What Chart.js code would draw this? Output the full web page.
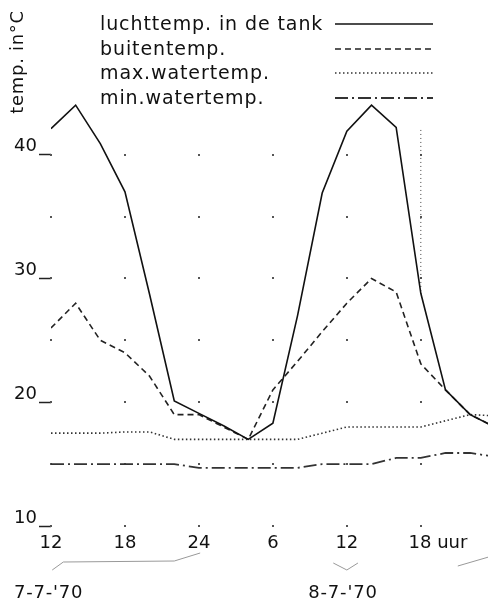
<!DOCTYPE html>
<html>
<head>
<meta charset="utf-8">
<script src="https://cdn.jsdelivr.net/npm/chart.js@4.4.0/dist/chart.umd.min.js"></script>
<style>
  html, body { margin: 0; padding: 0; background: #fff; }
  #wrap { position: relative; width: 488px; height: 607px; font-family: "DejaVu Sans", sans-serif; color: #111; }
  #wrap canvas { position: absolute; left: 0; top: 0; }
  #legend { position: absolute; left: 100px; top: 12px; }
  .row { position: relative; height: 24.5px; line-height: 22px; font-size: 19px; letter-spacing: 0.9px; white-space: nowrap; }
  .row svg { position: absolute; left: 235px; top: 10px; }
  #ytitle { position: absolute; left: 16px; top: 62px; transform: translate(-50%, -50%) rotate(-90deg);
            font-size: 18px; letter-spacing: 0.7px; white-space: nowrap; }
  .date { position: absolute; top: 581px; font-size: 18px; letter-spacing: 0.8px; white-space: nowrap; }
</style>
</head>
<body>
<div id="wrap">
  <canvas id="tempChart" width="488" height="607"></canvas>
  <div id="ytitle">temp. in°C</div>
  <div id="legend"></div>
  <div class="date" style="left:14px">7-7-'70</div>
  <div class="date" style="left:343px; transform: translateX(-50%)">8-7-'70</div>
</div>
<script>
// hours since midnight of 7-7-70, one reading every 2 hours
const hours = [12, 14, 16, 18, 20, 22, 24, 26, 28, 30, 32, 34, 36, 38, 40, 42, 44, 46, 48];

// temperatures in °C
const luchtTank = [42.1, 44.0, 40.9, 37.0, 28.7, 20.1, 19.1, 18.1, 17.0, 18.3, 27.0, 36.9, 41.9, 44.0, 42.2, 28.8, 21.0, 19.0, 18.0];
const buitenTemp = [26.0, 28.0, 25.0, 24.0, 22.1, 19.0, 19.0, 18.0, 17.0, 21.0, 23.3, 25.7, 28.0, 30.0, 28.9, 23.1, 21.0, 19.0, 18.0];
const maxWater = [17.5, 17.5, 17.5, 17.6, 17.6, 17.0, 17.0, 17.0, 17.0, 17.0, 17.0, 17.5, 18.0, 18.0, 18.0, 18.0, 18.5, 19.0, 18.9];
const minWater = [15.0, 15.0, 15.0, 15.0, 15.0, 15.0, 14.7, 14.7, 14.7, 14.7, 14.7, 15.0, 15.0, 15.0, 15.5, 15.5, 15.9, 15.9, 15.6];

// dotted drop line at 18 uur on the second day
const markerHour = 42;
const markerTemps = [42.0, 29.0];

// axis ticks
const tickHours = [12, 18, 24, 30, 36, 42];
const tickLabels = ['12', '18', '24', '6', '12', '      18 uur'];
const yLabels = [10, 20, 30, 40];

const seriesNames = ['luchttemp. in de tank', 'buitentemp.', 'max.watertemp.', 'min.watertemp.'];
const seriesValues = [luchtTank, buitenTemp, maxWater, minWater];
const seriesStyle = [
  { color: '#111', dash: [], width: 1.6 },
  { color: '#222', dash: [6, 4], width: 1.6 },
  { color: '#333', dash: [1.5, 2.5], width: 1.6 },
  { color: '#333', dash: [13, 4, 2, 4], width: 1.8 }
];

// Build the legend (text left, line sample right)
const legendBox = document.getElementById('legend');
seriesNames.forEach((name, i) => {
  const s = seriesStyle[i];
  const row = document.createElement('div');
  row.className = 'row';
  row.textContent = name;
  row.insertAdjacentHTML('beforeend',
    '<svg width="98" height="4"><line x1="0" y1="2" x2="98" y2="2" stroke="' + s.color +
    '" stroke-width="' + s.width + '" stroke-dasharray="' + s.dash.join(' ') + '"/></svg>');
  legendBox.appendChild(row);
});

// Small dots at the grid crossings, like the original drawing
const gridDots = {
  id: 'gridDots',
  beforeDatasetsDraw(chart) {
    const { ctx, scales: { x, y } } = chart;
    ctx.save();
    ctx.fillStyle = '#555';
    tickHours.forEach(h => {
      for (let t = 10; t <= 40; t += 5) {
        ctx.fillRect(Math.round(x.getPixelForValue(h)) - 1, Math.round(y.getPixelForValue(t)) - 1, 2, 2);
      }
    });
    ctx.restore();
  }
};

// Hand drawn brackets under the hour labels
const brackets = {
  id: 'brackets',
  afterDraw(chart) {
    const { ctx, scales: { x }, chartArea } = chart;
    const b = chartArea.bottom;
    const paths = [
      [[12.1, 44], [13.0, 36], [22.0, 35], [24.1, 27]],
      [[34.9, 37], [36.0, 44], [36.9, 37]],
      [[45.0, 40], [47.5, 31]]
    ];
    ctx.save();
    ctx.strokeStyle = '#999';
    ctx.lineWidth = 1;
    paths.forEach(p => {
      ctx.beginPath();
      p.forEach(([h, dy], k) => {
        const px = x.getPixelForValue(h);
        if (k === 0) ctx.moveTo(px, b + dy); else ctx.lineTo(px, b + dy);
      });
      ctx.stroke();
    });
    ctx.restore();
  }
};

const datasets = seriesValues.map((vals, i) => ({
  label: seriesNames[i],
  data: hours.map((h, k) => ({ x: h, y: vals[k] })),
  borderColor: seriesStyle[i].color,
  borderDash: seriesStyle[i].dash,
  borderWidth: seriesStyle[i].width,
  pointRadius: 0,
  tension: 0,
  fill: false
}));
datasets.push({
  label: 'marker',
  data: markerTemps.map(t => ({ x: markerHour, y: t })),
  borderColor: '#444',
  borderDash: [1, 3],
  borderWidth: 1,
  pointRadius: 0
});

Chart.defaults.font.family = '"DejaVu Sans", sans-serif';
Chart.defaults.font.size = 18;
Chart.defaults.color = '#111';

new Chart(document.getElementById('tempChart'), {
  type: 'line',
  data: { datasets },
  plugins: [gridDots, brackets],
  options: {
    responsive: false,
    animation: false,
    devicePixelRatio: 1,
    layout: { padding: { top: 99, right: 0, left: 0, bottom: 0 } },
    plugins: { legend: { display: false }, tooltip: { enabled: false } },
    scales: {
      x: {
        type: 'linear',
        min: 12,
        max: 47.45,
        afterFit: s => { s.height = 81; },
        border: { display: false },
        grid: { drawOnChartArea: false, drawTicks: false },
        ticks: {
          stepSize: 6,
          includeBounds: false,
          autoSkip: false,
          maxRotation: 0,
          padding: 7,
          callback: v => {
            const i = tickHours.indexOf(v);
            return i >= 0 ? tickLabels[i] : '';
          }
        }
      },
      y: {
        min: 10,
        max: 44.5,
        afterFit: s => { s.width = 51; },
        border: { display: false },
        grid: {
          drawOnChartArea: false,
          drawTicks: true,
          tickLength: 12,
          tickWidth: 1.5,
          tickColor: c => yLabels.includes(c.tick.value) ? '#222' : 'rgba(0,0,0,0)'
        },
        ticks: {
          stepSize: 5,
          includeBounds: false,
          padding: 2,
          labelOffset: -8,
          callback: v => yLabels.includes(v) ? v : ''
        }
      }
    }
  }
});
</script>
</body>
</html>
